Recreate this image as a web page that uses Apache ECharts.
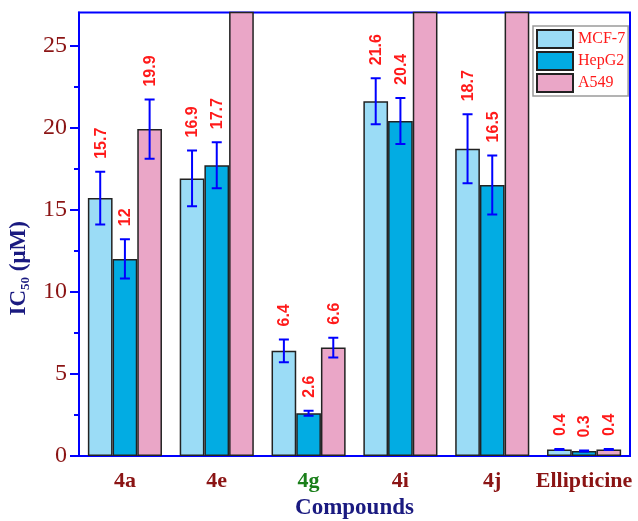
<!DOCTYPE html>
<html>
<head>
<meta charset="utf-8">
<script src="https://cdn.jsdelivr.net/npm/echarts@6/dist/echarts.min.js"></script>
<style>
  html, body { margin: 0; padding: 0; background: #fff; }
  #chart { width: 638px; height: 521px; }
</style>
</head>
<body>
<div id="chart"></div>
<script>
// IC50 values (µM) per compound and cell line, with standard deviations
const categories = ['4a', '4e', '4g', '4i', '4j', 'Ellipticine'];
const seriesNames = ['MCF-7', 'HepG2', 'A549'];
const mcf7 = [15.7, 16.9, 6.4, 21.6, 18.7, 0.4];
const mcf7Err = [1.6, 1.7, 0.7, 1.4, 2.1, 0.03];
const hepg2 = [12, 17.7, 2.6, 20.4, 16.5, 0.3];
const hepg2Err = [1.2, 1.4, 0.15, 1.4, 1.8, 0.03];
// A549 bars for 4e, 4i and 4j run past the top of the axis
const a549 = [19.9, 30, 6.6, 30, 30, 0.4];
const a549Err = [1.8, 0, 0.6, 0, 0, 0.03];
const yMajorTicks = [0, 5, 10, 15, 20, 25];
const yMinorTicks = [2.5, 7.5, 12.5, 17.5, 22.5];

const Y_MAX = 27;
const BAR_W = 24.7;
const AXIS_BLUE = '#0000ff';
const SERIF = '"Liberation Serif", "Times New Roman", serif';
const SANS = '"Liberation Sans", Arial, sans-serif';
const colors = ['#9bdcf6', '#02ace3', '#eaa6c7'];
const highlighted = '4g';

const values = [mcf7, hepg2, a549];
const errors = [mcf7Err, hepg2Err, a549Err];

// Error bar with caps plus a vertical value label above it
function errorRenderer(slot) {
  return function (params, api) {
    const i = api.value(0);
    const v = api.value(1);
    const e = api.value(2);
    if (v > Y_MAX) return null;
    const base = api.coord([i, v]);
    const x = base[0] + (slot - 1) * BAR_W;
    const yTop = api.coord([i, v + e])[1];
    const yBot = api.coord([i, v - e])[1];
    const capHalf = 5;
    const line = { stroke: AXIS_BLUE, lineWidth: 2 };
    return {
      type: 'group',
      children: [
        { type: 'line', shape: { x1: x, y1: yTop, x2: x, y2: yBot }, style: line },
        { type: 'line', shape: { x1: x - capHalf, y1: yTop, x2: x + capHalf, y2: yTop }, style: line },
        { type: 'line', shape: { x1: x - capHalf, y1: yBot, x2: x + capHalf, y2: yBot }, style: line },
        {
          type: 'text',
          x: x + 1,
          y: yTop - 13,
          rotation: Math.PI / 2,
          style: {
            text: String(v),
            fill: '#ff1a1a',
            font: 'bold 16px ' + SANS,
            align: 'left',
            verticalAlign: 'middle'
          }
        }
      ]
    };
  };
}

const barSeries = seriesNames.map((name, k) => ({
  name: name,
  type: 'bar',
  data: values[k],
  barWidth: BAR_W,
  barGap: '0%',
  clip: true,
  itemStyle: { color: colors[k], borderColor: '#222', borderWidth: 1.5 },
  z: 2
}));

const errSeries = seriesNames.map((name, k) => ({
  name: name + ' SD',
  type: 'custom',
  data: values[k].map((v, i) => [i, v, errors[k][i]]),
  encode: { x: 0, y: 1 },
  renderItem: errorRenderer(k),
  clip: true,
  z: 5,
  silent: true
}));

const chart = echarts.init(document.getElementById('chart'), null, { renderer: 'canvas' });
chart.setOption({
  animation: false,
  backgroundColor: '#fff',
  grid: {
    left: 79, right: 8, top: 12.5, bottom: 65,
    outerBoundsMode: 'none',
    show: true, borderColor: AXIS_BLUE, borderWidth: 2, backgroundColor: 'transparent'
  },
  legend: {
    data: seriesNames,
    orient: 'vertical',
    left: 533, top: 26,
    itemWidth: 36, itemHeight: 18, itemGap: 2,
    padding: [3, 3, 3, 3],
    borderColor: '#9a9a9a', borderWidth: 1.5,
    icon: 'rect',
    textStyle: { fontFamily: SERIF, fontSize: 16, color: '#ff1a1a' }
  },
  xAxis: {
    type: 'category',
    data: categories.map(c => ({
      value: c,
      textStyle: { color: c === highlighted ? '#1a7f1a' : '#8b1414' }
    })),
    axisLine: { lineStyle: { color: AXIS_BLUE, width: 2 } },
    axisTick: { show: false },
    axisLabel: { interval: 0, hideOverlap: false, fontFamily: SERIF, fontWeight: 'bold', fontSize: 22, margin: 14 },
    name: 'Compounds',
    nameLocation: 'middle',
    nameGap: 41,
    nameTextStyle: { fontFamily: SERIF, fontWeight: 'bold', fontSize: 23, color: '#1a1a80' }
  },
  yAxis: [
    {
      type: 'value',
      min: 0, max: Y_MAX,
      axisLine: { show: true, lineStyle: { color: AXIS_BLUE, width: 2 } },
      axisTick: { show: true, inside: false, length: 9, customValues: yMajorTicks, lineStyle: { color: AXIS_BLUE, width: 2 } },
      axisLabel: { customValues: yMajorTicks, fontFamily: SERIF, fontSize: 24, color: '#8b1414', margin: 12 },
      splitLine: { show: false },
      name: '{b|IC}{s|50}{b| (μM)}',
      nameLocation: 'middle',
      nameGap: 45,
      nameRotate: 90,
      nameTextStyle: {
        padding: [0, 68, 0, 0],
        rich: {
          b: { fontFamily: SERIF, fontWeight: 'bold', fontSize: 23, color: '#1a1a80', lineHeight: 26, verticalAlign: 'middle' },
          s: { fontFamily: SERIF, fontWeight: 'bold', fontSize: 13, color: '#1a1a80', lineHeight: 13, verticalAlign: 'bottom' }
        }
      }
    },
    {
      type: 'value',
      min: 0, max: Y_MAX,
      position: 'left',
      axisLine: { show: false },
      axisTick: { show: true, length: 5, customValues: yMinorTicks, lineStyle: { color: AXIS_BLUE, width: 2 } },
      axisLabel: { show: false },
      splitLine: { show: false }
    }
  ],
  series: barSeries.concat(errSeries)
});
</script>
</body>
</html>
